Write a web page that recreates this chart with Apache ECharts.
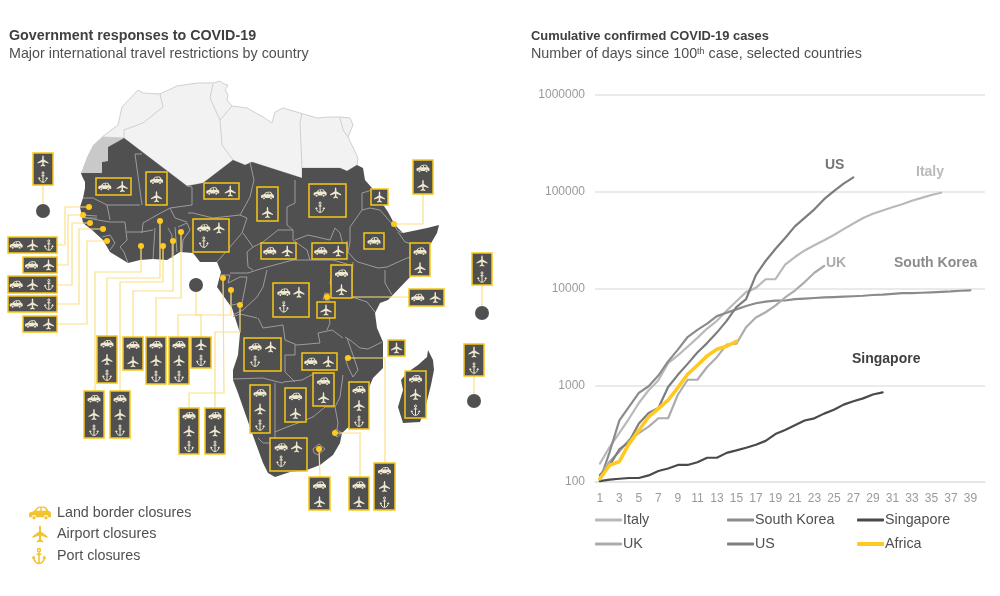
<!DOCTYPE html>
<html>
<head>
<meta charset="UTF-8">
<title>COVID-19 Africa</title>
<script src="https://cdn.jsdelivr.net/npm/echarts@6/dist/echarts.min.js"></script>
<style>html,body{margin:0;padding:0;background:#fff}#main{width:1000px;height:596px}</style>
</head>
<body>
<div id="main"></div>
<script>
// line chart data, days since 100th case
var days = ['1','2','3','4','5','6','7','8','9','10','11','12','13','14','15','16','17','18','19','20','21','22','23','24','25','26','27','28','29','30','31','32','33','34','35','36','37','38','39','40'];
var italy = [155,229,322,453,655,888,1128,1694,2036,2502,3089,3858,4636,5883,7375,9172,10149,12462,12462,17660,21157,24747,27980,31506,35713,41035,47021,53578,59138,63927,69176,74386,80589,86498,92472,97689];
var southKorea = [104,204,433,602,833,977,1261,1766,2337,3150,3736,4335,5186,5621,6088,6593,7041,7314,7478,7513,7755,7869,7979,8086,8162,8236,8320,8413,8565,8652,8799,8961,8961,9037,9137,9241,9332,9478,9583];
var singapore = [102,106,108,110,110,117,130,138,150,150,160,178,178,200,212,226,243,266,313,345,385,432,455,509,558,631,683,732,802,844];
var uk = [115,163,206,273,321,373,456,456,798,1140,1140,1543,1950,2626,2689,3983,5018,5683,6650,8077,9529,11658,14543,17089];
var us = [118,149,217,262,402,518,583,959,1281,1663,2179,2727,3499,4632,6421,7783,13747,19273,25600,33276,43847,53740,65778,83836,101657,121478,140886];
var africa = [108,149,163,249,343,470,574,700,946,1300,1610,2010,2356,2530,2850];

// map outlines, in page pixels
var northAfrica = [[102,137],[118,125],[122,107],[138,90],[143,93],[160,94],[177,86],[197,83],[213,83],[220,81],[224,84],[228,85],[225,90],[228,95],[227,100],[232,106],[247,108],[263,117],[272,123],[275,112],[283,108],[300,113],[317,118],[328,117],[340,117],[350,118],[353,125],[348,137],[358,158],[357,165],[347,171],[340,168],[302,168],[302,178],[252,162],[245,165],[233,160],[203,183],[187,186],[124,138]];
var westernSahara = [[102,137],[124,138],[108,147],[108,161],[102,162],[102,173],[81,173],[87,157],[93,145]];
var subSahara = [[81,173],[82,176],[85,182],[85,188],[83,198],[80,207],[82,217],[83,223],[92,230],[103,240],[110,252],[128,263],[140,260],[153,259],[167,260],[180,252],[193,253],[200,262],[217,262],[221,272],[217,287],[232,308],[238,327],[240,333],[238,355],[233,370],[233,380],[238,393],[245,413],[252,433],[263,463],[268,473],[275,477],[290,472],[307,470],[320,465],[333,455],[340,443],[342,433],[353,423],[365,407],[368,390],[373,378],[383,368],[383,342],[377,328],[375,313],[380,303],[388,300],[410,277],[423,257],[437,233],[439,225],[427,228],[403,233],[395,225],[388,212],[372,188],[365,180],[363,168],[357,165],[347,171],[340,168],[302,168],[302,178],[252,162],[245,165],[233,160],[203,183],[187,186],[124,138],[108,147],[108,161],[102,162],[102,173]];
var madagascar = [[428,350],[433,360],[434,370],[431,385],[426,405],[420,422],[403,423],[398,407],[403,390],[401,380],[408,372],[418,365],[427,357]];
var lightBorders = [
  [[124,138],[124,130],[143,123],[163,107],[160,94]],
  [[213,84],[210,98],[220,120],[222,145],[233,160]],
  [[220,120],[232,106]],
  [[302,113],[300,123],[302,168]],
  [[340,118],[343,130],[348,137]]
];
var darkBorders = [
  [[135,154],[142,154]],[[135,154],[142,205]],
  [[83,198],[93,198],[107,205],[140,205]],
  [[107,205],[110,220]],[[82,217],[98,220],[110,222]],
  [[82,215],[97,216]],[[84,218],[97,218]],
  [[102,237],[110,235],[115,243],[110,250]],
  [[110,222],[125,222],[127,240]],[[127,240],[120,247],[124,252],[128,263]],
  [[127,232],[142,232],[153,230]],
  [[142,233],[143,223],[157,215],[170,208],[175,218],[187,222]],
  [[155,228],[153,259]],[[168,228],[172,235],[172,258]],[[175,227],[177,252]],
  [[178,227],[187,223],[190,230],[183,240],[182,252]],
  [[170,208],[192,205],[192,187],[187,186]],
  [[188,213],[193,213],[213,218],[240,215]],
  [[217,262],[230,247],[242,233],[247,218],[240,215]],
  [[250,162],[254,180],[250,197],[240,215]],
  [[295,180],[295,203],[287,207],[287,225],[293,230],[293,240]],
  [[243,233],[253,247],[263,242],[278,230],[293,230]],
  [[253,247],[247,252],[248,267],[253,270]],
  [[257,270],[267,267],[293,260],[310,260]],
  [[293,240],[307,250],[310,260]],
  [[295,240],[308,235],[330,240],[335,228],[340,233],[343,245],[348,241]],
  [[350,242],[350,227],[362,210],[370,208]],[[362,210],[362,193],[372,190]],
  [[370,208],[380,210],[393,225]],[[393,222],[397,230],[402,233]],
  [[398,232],[405,242],[422,247]],
  [[358,262],[378,268],[387,267],[407,258],[412,257]],
  [[350,242],[348,252],[355,260],[358,262]],
  [[310,260],[333,260],[350,265]],
  [[333,267],[330,283],[333,293]],[[353,262],[352,277],[352,297]],
  [[352,297],[367,302],[375,312]],[[385,270],[385,283],[392,295]],
  [[323,300],[325,293],[330,294],[333,293]],[[325,300],[330,300]],
  [[327,302],[330,323],[327,330]],
  [[345,337],[350,340],[360,348],[368,349],[382,342]],
  [[258,318],[263,328],[283,325],[285,340],[297,345],[320,343],[318,333],[332,330],[343,338]],
  [[233,317],[240,314],[257,318]],
  [[267,270],[263,287],[257,297],[243,310],[233,315]],
  [[220,275],[230,275],[228,283],[240,277],[247,277],[245,288],[242,303],[232,305]],
  [[230,273],[248,273],[257,270]],
  [[233,379],[263,378],[278,382],[283,383]],
  [[295,345],[295,355],[285,355],[285,372],[295,382]],
  [[283,382],[302,380],[315,373]],
  [[347,338],[353,355],[358,370],[353,377],[348,367],[345,357]],
  [[343,375],[340,397],[335,407],[338,423],[337,430]],
  [[275,383],[275,403],[275,443],[263,443],[258,438]],
  [[275,432],[287,427],[298,423],[313,417],[325,407],[335,407]],
  [[313,449],[319,444],[325,449],[318,455],[314,453],[313,449]],
  [[332,433],[336,429],[342,433],[337,437],[332,433]]
];

// closures per callout: L land, A airport, P port
var boxIcons = ['AP','LA','LA','LA','LA','LAP','A','LA','L','LA','AP','LA','LA','A','LAP','LA','LA','LAP','LAP','LA','LAP','LAP','LA','LAP','LA','LAP','LAP','AP','LAP','LAP','LAP','LAP','LAP','LA','A','LA','LA','LAP','LAP','LAP','AP','LAP','LA','LA','LAP'];
var boxPlaces = [[33,153,53,185],[96,178,131,195],[146,172,167,205],[204,183,239,199],[257,187,278,221],[309,184,346,217],[371,189,388,205],[413,160,433,194],[364,233,384,249],[410,243,430,276],[472,253,492,285],[409,289,444,306],[331,265,352,298],[317,302,335,318],[273,283,309,317],[261,243,296,259],[312,243,347,259],[193,219,229,252],[8,237,57,253],[23,257,57,273],[8,276,57,293],[8,296,57,312],[23,316,57,332],[97,336,117,383],[123,337,143,370],[146,337,166,384],[169,337,189,384],[191,337,211,368],[84,391,104,438],[110,391,130,438],[179,408,199,454],[205,408,225,454],[244,338,281,371],[302,353,337,370],[388,340,405,356],[313,373,334,406],[285,388,306,422],[250,385,270,433],[349,382,369,429],[405,371,426,418],[464,344,484,376],[270,438,307,471],[309,477,330,510],[349,477,369,510],[374,463,395,510]];
var countryDots = [[89,207],[83,215],[90,223],[103,229],[107,241],[141,246],[160,221],[163,246],[173,241],[181,232],[223,278],[231,290],[240,305],[327,297],[394,224],[348,358],[335,433],[319,449]];
var islandDots = [[43,211],[196,285],[482,313],[474,401]];
var connectors = [
  [[43,185],[43,204]],[[482,285],[482,306]],[[474,376],[474,394]],
  [[89,207],[65,207],[65,245],[57,245]],
  [[83,215],[68,215],[68,265],[57,265]],
  [[90,223],[72,223],[72,285],[57,285]],
  [[103,229],[79,229],[79,304],[57,304]],
  [[107,241],[87,241],[87,324],[57,324]],
  [[141,246],[141,272],[95,272],[95,391]],
  [[160,221],[160,278],[107,278],[107,336]],
  [[163,246],[163,282],[120,282],[120,391]],
  [[173,241],[173,291],[133,291],[133,337]],
  [[181,232],[181,298],[156,298],[156,337]],
  [[231,290],[231,315],[178,315],[178,337]],
  [[196,292],[196,315],[201,315],[201,337]],
  [[223,278],[224,393],[189,393],[189,408]],
  [[240,305],[240,332],[215,332],[215,408]],
  [[423,194],[423,224],[394,224]],
  [[352,297],[409,297]],
  [[348,358],[385,358],[385,463]],
  [[335,433],[360,433],[360,477]],
  [[319,449],[320,477]]
];

var CAR = 'M0 8C0 6 2 5.5 5 5L8.5 1.5C9.5 .5 11 0 13 0L16 0C18 0 19.5 1 21 4.5C23 5 24 6 24 8L24 10.5C24 11.3 23.5 11.5 22.5 11.5L21 11.5A2.5 2.5 0 0 0 16 11.5L8 11.5A2.5 2.5 0 0 0 3 11.5L1.5 11.5C.5 11.5 0 11 0 10ZM9.8 2.3L7.8 4.5L12.3 4.5L12.3 1.3C11 1.3 10.5 1.6 9.8 2.3ZM13.8 1.3L13.8 4.5L18.8 4.5C18 2.5 17 1.3 15.5 1.3ZM7.3 12A1.8 1.8 0 1 0 3.7 12A1.8 1.8 0 1 0 7.3 12ZM20.3 12A1.8 1.8 0 1 0 16.7 12A1.8 1.8 0 1 0 20.3 12Z';
var PLANE = 'M12 0C13 0 13.6 1.5 13.6 3.5L13.6 8.5L24 15L24 17.5L13.6 14L13.6 19.5L17 22L17 24L12 22.8L7 24L7 22L10.4 19.5L10.4 14L0 17.5L0 15L10.4 8.5L10.4 3.5C10.4 1.5 11 0 12 0Z';
var ANCHOR = 'M14.5 3.5A2.5 2.5 0 1 0 9.5 3.5A2.5 2.5 0 1 0 14.5 3.5ZM12 6L12 23M7.5 9.5L16.5 9.5M2 14C2 19 7 23 12 23C17 23 22 19 22 14M0 16L2 13L4.5 15.5M24 16L22 13L19.5 15.5';

var CREAM = '#f1e9cf', YELLOW = '#ffc91f', DARK = '#505050';
var ICON_SIZE = {L:[13,7.5], A:[11,11], P:[9,10.5]};

function pt(p){ return [p[0], -p[1]]; }
function ring(list){ var r = list.map(pt); r.push(r[0]); return r; }
function feature(name, polys){
  return {type:'Feature', properties:{name:name}, geometry:{type:'MultiPolygon', coordinates:polys.map(function(p){ return [ring(p)]; })}};
}
function polylines(list){ return list.map(function(l){ return {coords:l.map(pt)}; }); }

echarts.registerMap('africa', {type:'FeatureCollection', features:[
  feature('North Africa',[northAfrica]),
  feature('Western Sahara',[westernSahara]),
  feature('Sub-Saharan Africa',[subSahara, madagascar])
]});

function iconShape(kind, cx, cy, color, size, lw){
  var s = size || ICON_SIZE[kind];
  return {
    type:'path',
    shape:{pathData:kind=='L'?CAR:kind=='A'?PLANE:ANCHOR, layout:'cover', x:cx-s[0]/2, y:cy-s[1]/2, width:s[0], height:s[1]},
    style:kind=='P'?{fill:'none', stroke:color, lineWidth:lw||1}:{fill:color}
  };
}

function iconCenters(kinds, x0, y0, w, h){
  var n = kinds.length, out = [];
  if(w < h*1.3 && h < w*1.3 && n == 3){
    // square callout: two on top, port below
    out.push([x0+w*0.3,y0+h*0.27],[x0+w*0.72,y0+h*0.27],[x0+w*0.3,y0+h*0.7]);
  }else if(h > w){
    for(var i=0;i<n;i++) out.push([x0+w/2,y0+h*(i+0.5)/n]);
  }else{
    for(var j=0;j<n;j++) out.push([x0+w*(j+0.5)/n,y0+h/2]);
  }
  return out;
}

function renderBox(params, api){
  var i = params.dataIndex;
  var a = api.coord([api.value(0),api.value(1)]), b = api.coord([api.value(2),api.value(3)]);
  var w = b[0]-a[0], h = b[1]-a[1];
  var kinds = boxIcons[i].split('');
  var centers = iconCenters(kinds,a[0],a[1],w,h);
  var kids = [{type:'rect', shape:{x:a[0],y:a[1],width:w,height:h}, style:{fill:DARK, stroke:'#f7c616', lineWidth:1.5}}];
  kinds.forEach(function(k,n){ kids.push(iconShape(k,centers[n][0],centers[n][1],CREAM)); });
  return {type:'group', children:kids};
}

var lineSeries = [
  {name:'Italy', data:italy, color:'#b9b9b9', width:2.2},
  {name:'South Korea', data:southKorea, color:'#8b8b8b', width:2.2},
  {name:'Singapore', data:singapore, color:'#4a4a4a', width:2.2},
  {name:'UK', data:uk, color:'#acacac', width:2.2},
  {name:'US', data:us, color:'#7d7d7d', width:2.2},
  {name:'Africa', data:africa, color:'#ffc91f', width:3.6}
].map(function(s){
  return {name:s.name, type:'line', data:s.data, xAxisIndex:0, yAxisIndex:0, symbol:'none', z:5,
    itemStyle:{color:s.color}, lineStyle:{color:s.color, width:s.width, cap:'round', join:'round'}};
});

var legendSpots = [[595,513],[727,513],[857,513],[595,537],[727,537],[857,537]];
var legends = lineSeries.map(function(s,i){
  return {data:[s.name], left:legendSpots[i][0], top:legendSpots[i][1], padding:0, itemWidth:27, itemHeight:s.name=='Africa'?4:3, icon:'roundRect',
    selectedMode:false, textStyle:{color:DARK, fontSize:14.3, padding:[0,0,0,-4]}};
});

var inChartLabels = [
  {text:'US', x:825, y:158, color:'#757575'},
  {text:'Italy', x:916, y:165, color:'#b9b9b9'},
  {text:'UK', x:826, y:256, color:'#acacac'},
  {text:'South Korea', x:894, y:256, color:'#8b8b8b'},
  {text:'Singapore', x:852, y:352, color:'#404040'}
];
var mapLegend = [
  {kind:'L', text:'Land border closures', x:40, y:513, size:[22,13]},
  {kind:'A', text:'Airport closures', x:40, y:534, size:[15,17]},
  {kind:'P', text:'Port closures', x:39, y:556, size:[13,15]}
];
var graphics = inChartLabels.map(function(l){
  return {type:'text', x:l.x, y:l.y, style:{text:l.text, fill:l.color, font:'bold 14px "Liberation Sans"'}};
});
mapLegend.forEach(function(m){
  graphics.push({type:'text', x:57, y:m.y-6.5, style:{text:m.text, fill:DARK, font:'14.3px "Liberation Sans"'}});
});

function renderLegendIcon(params, api){
  var m = mapLegend[params.dataIndex];
  var c = api.coord([api.value(0),api.value(1)]);
  return iconShape(m.kind,c[0],c[1],'#f2c230',m.size,1.5);
}

var subStyle = {color:DARK, fontSize:14.3, rich:{sup:{fontSize:9, color:DARK, verticalAlign:'top', padding:[0,0,5,0]}}};

var option = {
  animation:false,
  textStyle:{fontFamily:'"Liberation Sans", Arial, sans-serif'},
  title:[
    {text:'Government responses to COVID-19', subtext:'Major international travel restrictions by country', left:9, top:29, padding:0, itemGap:4,
      textStyle:{color:'#404040', fontSize:14.3, fontWeight:'bold'}, subtextStyle:subStyle},
    {text:'Cumulative confirmed COVID-19 cases', subtext:'Number of days since 100{sup|th} case, selected countries', left:531, top:30, padding:0, itemGap:4.4,
      textStyle:{color:'#404040', fontSize:12.9, fontWeight:'bold'}, subtextStyle:subStyle}
  ],
  legend:legends,
  grid:{left:595, right:15, top:95, bottom:114},
  xAxis:{type:'category', data:days, boundaryGap:true,
    axisLine:{show:true, lineStyle:{color:'#e3e3e3', width:1.5}}, axisTick:{show:false},
    axisLabel:{interval:1, color:'#9a9a9a', fontSize:12, margin:11}},
  yAxis:{type:'log', logBase:10, min:100, max:1000000,
    axisLine:{show:false}, axisTick:{show:false},
    axisLabel:{color:'#9a9a9a', fontSize:12, margin:10, formatter:function(v){ return String(Math.round(v)); }},
    splitLine:{show:true, lineStyle:{color:'#e3e3e3', width:1.5}}},
  geo:{map:'africa', left:0, top:0, width:500, height:596, aspectScale:1,
    boundingCoords:[[0,0],[500,-596]], roam:false, silent:true,
    label:{show:false}, emphasis:{disabled:true},
    itemStyle:{areaColor:DARK, borderColor:'#9c9c9c', borderWidth:0},
    regions:[
      {name:'North Africa', itemStyle:{areaColor:'#f2f2f2', borderColor:'#cfcfcf', borderWidth:1}},
      {name:'Western Sahara', itemStyle:{areaColor:'#c9c9c9', borderWidth:0}},
      {name:'Sub-Saharan Africa', itemStyle:{areaColor:DARK, borderWidth:0}}
    ]},
  graphic:{elements:graphics},
  series:lineSeries.concat([
    {type:'lines', coordinateSystem:'geo', polyline:true, silent:true, z:2, data:polylines(lightBorders), lineStyle:{color:'#cfcfcf', width:1, opacity:1}},
    {type:'lines', coordinateSystem:'geo', polyline:true, silent:true, z:2, data:polylines(darkBorders), lineStyle:{color:'#9c9c9c', width:1, opacity:1}},
    {type:'lines', coordinateSystem:'geo', polyline:true, silent:true, z:3, data:polylines(connectors), lineStyle:{color:'#fbdf86', width:1.2, opacity:1}},
    {type:'scatter', coordinateSystem:'geo', silent:true, z:4, symbolSize:14, data:islandDots.map(pt), itemStyle:{color:DARK, opacity:1}},
    {type:'scatter', coordinateSystem:'geo', silent:true, z:4, symbolSize:6, data:countryDots.map(pt), itemStyle:{color:YELLOW, opacity:1}},
    {type:'custom', coordinateSystem:'geo', silent:true, z:6, renderItem:renderBox,
      data:boxPlaces.map(function(b){ return [b[0],-b[1],b[2],-b[3]]; })},
    {type:'custom', coordinateSystem:'geo', silent:true, z:6, renderItem:renderLegendIcon,
      data:mapLegend.map(function(m){ return [m.x,-m.y]; })}
  ])
};
var chart = echarts.init(document.getElementById('main'));
chart.setOption(option);
</script>
</body>
</html>
